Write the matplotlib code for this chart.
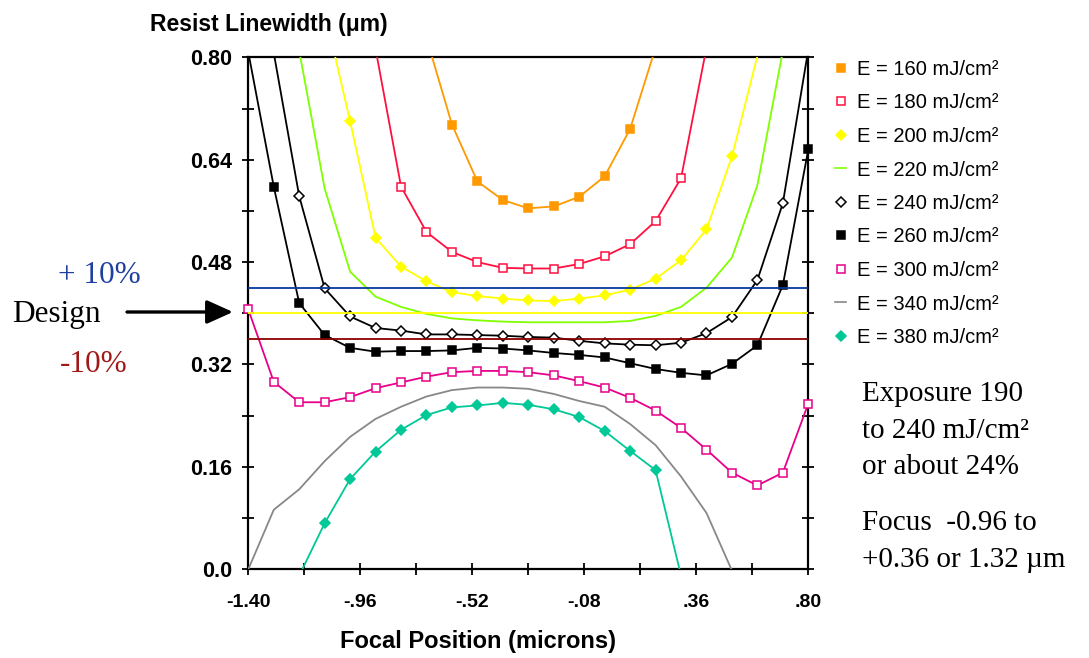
import numpy as np
import matplotlib.pyplot as plt
from matplotlib.lines import Line2D

# resist linewidth (um) vs focal position (um), one curve per exposure dose
e160_x = [-0.7, -0.6, -0.5, -0.4, -0.3, -0.2, -0.1, 0.0, 0.1, 0.2]
e160_y = [0.830, 0.695, 0.606, 0.577, 0.564, 0.567, 0.582, 0.614, 0.688, 0.815]

e180_x = [-0.9, -0.8, -0.7, -0.6, -0.5, -0.4, -0.3, -0.2, -0.1, 0.0, 0.1, 0.2, 0.3, 0.4]
e180_y = [0.813, 0.598, 0.527, 0.496, 0.480, 0.471, 0.470, 0.470, 0.477, 0.489,
          0.508, 0.544, 0.611, 0.815]

e200_x = [-1.1, -1.0, -0.9, -0.8, -0.7, -0.6, -0.5, -0.4, -0.3, -0.2, -0.1, 0.0,
          0.1, 0.2, 0.3, 0.4, 0.5, 0.6]
e200_y = [0.872, 0.700, 0.518, 0.473, 0.450, 0.433, 0.427, 0.423, 0.420, 0.419,
          0.423, 0.428, 0.437, 0.454, 0.483, 0.531, 0.645, 0.802]

e220_x = [-1.2, -1.1, -1.0, -0.9, -0.8, -0.7, -0.6, -0.5, -0.4, -0.3, -0.2, -0.1,
          0.0, 0.1, 0.2, 0.3, 0.4, 0.5, 0.6, 0.7]
e220_y = [0.810, 0.595, 0.465, 0.426, 0.410, 0.399, 0.392, 0.389, 0.387, 0.386,
          0.386, 0.386, 0.386, 0.388, 0.396, 0.410, 0.440, 0.487, 0.600, 0.810]

e240_x = [-1.3, -1.2, -1.1, -1.0, -0.9, -0.8, -0.7, -0.6, -0.5, -0.4, -0.3, -0.2,
          -0.1, 0.0, 0.1, 0.2, 0.3, 0.4, 0.5, 0.6, 0.7, 0.8]
e240_y = [0.807, 0.583, 0.439, 0.395, 0.377, 0.373, 0.367, 0.367, 0.366, 0.365,
          0.363, 0.362, 0.357, 0.353, 0.351, 0.350, 0.354, 0.369, 0.394, 0.452,
          0.572, 0.812]

e260_x = [-1.4, -1.3, -1.2, -1.1, -1.0, -0.9, -0.8, -0.7, -0.6, -0.5, -0.4, -0.3,
          -0.2, -0.1, 0.0, 0.1, 0.2, 0.3, 0.4, 0.5, 0.6, 0.7, 0.8]
e260_y = [0.808, 0.598, 0.416, 0.366, 0.346, 0.340, 0.341, 0.341, 0.342, 0.346,
          0.345, 0.342, 0.338, 0.335, 0.331, 0.322, 0.313, 0.307, 0.303, 0.321,
          0.350, 0.444, 0.656]

e300_x = [-1.4, -1.3, -1.2, -1.1, -1.0, -0.9, -0.8, -0.7, -0.6, -0.5, -0.4, -0.3,
          -0.2, -0.1, 0.0, 0.1, 0.2, 0.3, 0.4, 0.5, 0.6, 0.7, 0.8]
e300_y = [0.406, 0.293, 0.261, 0.261, 0.269, 0.283, 0.292, 0.301, 0.308, 0.310,
          0.310, 0.308, 0.303, 0.294, 0.284, 0.268, 0.248, 0.221, 0.187, 0.151,
          0.131, 0.151, 0.259]

e340_x = [-1.4, -1.3, -1.2, -1.1, -1.0, -0.9, -0.8, -0.7, -0.6, -0.5, -0.4, -0.3,
          -0.2, -0.1, 0.0, 0.1, 0.2, 0.3, 0.4, 0.5]
e340_y = [0.000, 0.093, 0.125, 0.169, 0.207, 0.235, 0.254, 0.270, 0.280, 0.284,
          0.284, 0.282, 0.274, 0.263, 0.254, 0.227, 0.194, 0.145, 0.088, -0.002]

e380_x = [-1.2, -1.1, -1.0, -0.9, -0.8, -0.7, -0.6, -0.5, -0.4, -0.3, -0.2, -0.1,
          0.0, 0.1, 0.2, 0.3]
e380_y = [-0.010, 0.072, 0.141, 0.184, 0.218, 0.241, 0.253, 0.256, 0.260, 0.257,
          0.250, 0.238, 0.216, 0.185, 0.155, -0.010]

labels = ['E = 160 mJ/cm\u00b2', 'E = 180 mJ/cm\u00b2', 'E = 200 mJ/cm\u00b2',
          'E = 220 mJ/cm\u00b2', 'E = 240 mJ/cm\u00b2', 'E = 260 mJ/cm\u00b2',
          'E = 300 mJ/cm\u00b2', 'E = 340 mJ/cm\u00b2', 'E = 380 mJ/cm\u00b2']
xs = [e160_x, e180_x, e200_x, e220_x, e240_x, e260_x, e300_x, e340_x, e380_x]
ys = [e160_y, e180_y, e200_y, e220_y, e240_y, e260_y, e300_y, e340_y, e380_y]

# design linewidth and +/-10% limits
plus10 = 0.44
design = 0.40
minus10 = 0.36

xtick_vals = [-1.40, -0.96, -0.52, -0.08, 0.36, 0.80]
xtick_labels = ['-1.40', '-.96', '-.52', '-.08', '.36', '.80']
ytick_vals = [0.0, 0.16, 0.32, 0.48, 0.64, 0.80]
ytick_labels = ['0.0', '0.16', '0.32', '0.48', '0.64', '0.80']

# styles
colors = ['#ff9900', '#ff1040', '#ffff00', '#80ff00', '#000000', '#000000',
          '#e8008a', '#888888', '#00c896']
markers = ['s', 's', 'D', None, 'D', 's', 's', None, 'D']
faces = ['fill', 'white', 'fill', None, 'white', 'fill', 'white', None, 'fill']
msizes = [5.8, 6.2, 4.8, 0, 4.8, 5.8, 6.2, 0, 4.8]

plt.rcParams['font.family'] = ['Liberation Sans', 'DejaVu Sans']

W, H = 1089, 658
def fx(px):
    return px / W
def fy(py):
    return 1 - py / H

fig = plt.figure(figsize=(W / 100, H / 100), dpi=100)
ax = fig.add_axes([fx(248.3), fy(569.3), 560 / W, 512 / H])

for x, y, c, m, f, ms in zip(xs, ys, colors, markers, faces, msizes):
    x = np.array(x)
    y = np.array(y)
    ax.plot(x, y, color=c, lw=1.3, zorder=3)
    if m:
        inside = (y > 0.005) & (y < 0.795)
        ax.plot(x[inside], y[inside], ls='none', marker=m, ms=ms,
                mfc=c if f == 'fill' else 'white', mec=c, mew=1.1,
                clip_on=False, zorder=4)

ax.axhline(plus10, color='#0838a0', lw=1.3, zorder=5)
ax.axhline(design, color='#ffff00', lw=1.3, zorder=5)
ax.axhline(minus10, color='#8b0000', lw=1.3, zorder=5)

ax.set_xlim(-1.4, 0.8)
ax.set_ylim(0, 0.8)
ax.set_xticks(xtick_vals)
ax.set_xticklabels(xtick_labels, fontweight='bold')
ax.set_yticks(ytick_vals)
ax.set_yticklabels(ytick_labels, fontweight='bold')
xv = np.array(xtick_vals)
yv = np.array(ytick_vals)
ax.set_xticks((xv[:-1] + xv[1:]) / 2, minor=True)
ax.set_yticks((yv[:-1] + yv[1:]) / 2, minor=True)
ax.tick_params(which='both', direction='inout', length=9, width=1.3,
               right=True, top=False)
ax.tick_params(axis='x', pad=13, labelsize=14)
ax.tick_params(axis='y', pad=7, labelsize=15.5)
for sp in ax.spines.values():
    sp.set_linewidth(1.6)

fig.text(fx(150), fy(31), 'Resist Linewidth (\u03bcm)', fontsize=16.5,
         fontweight='bold', ha='left', va='baseline')
fig.text(fx(478), fy(648), 'Focal Position (microns)', fontsize=17,
         fontweight='bold', ha='center', va='baseline')

# legend
handles = []
for c, m, f, ms in zip(colors, markers, faces, msizes):
    if m:
        handles.append(Line2D([], [], ls='none', marker=m, ms=ms, mec=c, mew=1.1,
                              mfc=c if f == 'fill' else 'white'))
    else:
        handles.append(Line2D([], [], color=c, lw=1.2))
fig.legend(handles, labels, loc='upper left', bbox_to_anchor=(fx(835), fy(60)),
           frameon=False, fontsize=14.5, handlelength=0.55, handletextpad=0.55,
           labelspacing=0.72, borderpad=0, borderaxespad=0)

# annotations
serif = ['Liberation Serif', 'DejaVu Serif']
fig.text(fx(58), fy(283), '+ 10%', color='#2040a0', fontsize=22.5,
         family=serif, va='baseline')
fig.text(fx(12), fy(322), 'Design', color='black', fontsize=22.5,
         family=serif, va='baseline')
fig.text(fx(60), fy(372), '-10%', color='#a01818', fontsize=22.5,
         family=serif, va='baseline')
ax.annotate('', xy=(fx(233), fy(312)), xytext=(fx(127), fy(312)),
            xycoords='figure fraction', textcoords='figure fraction',
            arrowprops=dict(arrowstyle='-|>,head_length=1.0,head_width=0.45',
                            mutation_scale=16, lw=2.4, color='black',
                            shrinkA=0, shrinkB=0))

right_lines = ['Exposure 190', 'to 240 mJ/cm\u00b2', 'or about 24%',
               'Focus  -0.96 to', '+0.36 or 1.32 \u00b5m']
right_base = [401, 438, 474, 530, 567]
for s, b in zip(right_lines, right_base):
    fig.text(fx(862), fy(b), s, fontsize=21, family=serif, va='baseline')

fig.savefig('out.png', dpi=100)
